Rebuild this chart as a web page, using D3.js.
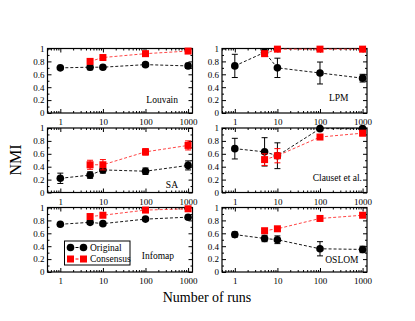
<!DOCTYPE html>
<html><head><meta charset="utf-8">
<script src="https://cdn.jsdelivr.net/npm/d3@7"></script>
<style>html,body{margin:0;padding:0;background:#fff;}svg{display:block;}</style>
</head><body>
<svg id="c" width="415" height="321"></svg>
<script>
// ---- data ----
const panels = ["Louvain", "LPM", "SA", "Clauset et al.", "Infomap", "OSLOM"];
const runsOriginal = [1, 5, 10, 100, 1000];
const runsConsensus = [5, 10, 100, 1000];
const originalNMI = [
  [0.70, 0.71, 0.71, 0.75, 0.73],
  [0.73, 0.94, 0.70, 0.62, 0.54],
  [0.22, 0.27, 0.35, 0.33, 0.42],
  [0.68, 0.63, 0.57, 0.99, 0.99],
  [0.74, 0.77, 0.75, 0.82, 0.85],
  [0.58, 0.52, 0.50, 0.36, 0.35]
];
const originalErr = [
  [0.02, 0.04, 0.03, 0.03, 0.04],
  [0.18, 0.05, 0.15, 0.17, 0.06],
  [0.08, 0.05, 0.05, 0.05, 0.07],
  [0.16, 0.22, 0.20, 0.01, 0.01],
  [0.02, 0.03, 0.03, 0.02, 0.03],
  [0.04, 0.05, 0.06, 0.11, 0.05]
];
const consensusNMI = [
  [0.80, 0.86, 0.92, 0.96],
  [0.92, 0.99, 0.99, 0.99],
  [0.43, 0.43, 0.63, 0.73],
  [0.51, 0.57, 0.86, 0.92],
  [0.86, 0.88, 0.96, 0.98],
  [0.64, 0.67, 0.83, 0.88]
];
const consensusErr = [
  [0.02, 0.02, 0.01, 0.01],
  [0.03, 0.01, 0.01, 0.01],
  [0.07, 0.08, 0.05, 0.07],
  [0.09, 0.11, 0.01, 0.04],
  [0.02, 0.02, 0.01, 0.01],
  [0.02, 0.02, 0.03, 0.02]
];
const xTickValues = [1, 10, 100, 1000];
const yTickValues = [0, 0.2, 0.4, 0.6, 0.8, 1];
const yTickLabels = ["0", "0.2", "0.4", "0.6", "0.8", "1"];
const seriesNames = ["Original", "Consensus"];

// ---- layout ----
const colX = [47.5, 222];
const rowY = [48.5, 128, 207.5];
const pw = 145, ph = 64.5;
const labelInset = [14.5, 18.5, 14.5, 5, 18.5, 8.5];
const labelRaise = [10, 12, 5, 12, 13, 9];
const serif = "'Liberation Serif','DejaVu Serif',serif";
const RED = "#ff0000";

const svg = d3.select("#c");

const minorX = [];
[0.1, 1, 10, 100, 1000].forEach(d => { for (let k = 1; k <= 9; k++) { const v = d * k; if (v >= 0.5 && v <= 1270 && xTickValues.indexOf(v) < 0) minorX.push(v); } });
const minorY = d3.range(0.1, 1, 0.2);

panels.forEach((name, i) => {
  const col = i % 2, row = Math.floor(i / 2);
  const g = svg.append("g").attr("transform", `translate(${colX[col]},${rowY[row]})`);
  const x = d3.scaleLog().domain([0.5, 1270]).range([0, pw]);
  const y = d3.scaleLinear().domain([0, 1]).range([ph, 0]);

  g.append("g").attr("transform", `translate(0,${ph})`)
    .call(d3.axisBottom(x).tickValues(xTickValues).tickFormat(d3.format("d")).tickSize(-4).tickSizeOuter(0).tickPadding(6));
  g.append("g").attr("transform", `translate(0,${ph})`)
    .call(d3.axisBottom(x).tickValues(minorX).tickFormat("").tickSize(-2).tickSizeOuter(0));
  g.append("g").call(d3.axisTop(x).tickValues(xTickValues).tickFormat("").tickSize(-4).tickSizeOuter(0));
  g.append("g").call(d3.axisTop(x).tickValues(minorX).tickFormat("").tickSize(-2).tickSizeOuter(0));
  g.append("g").call(d3.axisLeft(y).tickValues(yTickValues).tickFormat((d, j) => yTickLabels[j]).tickSize(-4).tickSizeOuter(0).tickPadding(3));
  g.append("g").call(d3.axisLeft(y).tickValues(minorY).tickFormat("").tickSize(-2).tickSizeOuter(0));
  g.append("g").attr("transform", `translate(${pw},0)`).call(d3.axisRight(y).tickValues(yTickValues).tickFormat("").tickSize(-4).tickSizeOuter(0));
  g.append("g").attr("transform", `translate(${pw},0)`).call(d3.axisRight(y).tickValues(minorY).tickFormat("").tickSize(-2).tickSizeOuter(0));
  g.selectAll(".domain").remove();
  g.selectAll(".tick line").attr("stroke", "#000").attr("stroke-width", 1);
  g.selectAll(".tick text").attr("font-family", serif).attr("font-size", 9).attr("fill", "#000");
  g.append("rect").attr("width", pw).attr("height", ph).attr("fill", "none").attr("stroke", "#000").attr("stroke-width", 1.2);

  const line = d3.line().x(d => x(d[0])).y(d => y(d[1]));
  const orig = runsOriginal.map((r, j) => [r, originalNMI[i][j], originalErr[i][j]]);
  const cons = runsConsensus.map((r, j) => [r, consensusNMI[i][j], consensusErr[i][j]]);

  function errBars(data, color) {
    const eb = g.append("g").attr("stroke", color).attr("stroke-width", 1);
    data.forEach(d => {
      const lo = Math.max(0, d[1] - d[2]), hi = Math.min(1, d[1] + d[2]);
      eb.append("line").attr("x1", x(d[0])).attr("x2", x(d[0])).attr("y1", y(lo)).attr("y2", y(hi));
      eb.append("line").attr("x1", x(d[0]) - 3).attr("x2", x(d[0]) + 3).attr("y1", y(lo)).attr("y2", y(lo));
      eb.append("line").attr("x1", x(d[0]) - 3).attr("x2", x(d[0]) + 3).attr("y1", y(hi)).attr("y2", y(hi));
    });
  }

  g.append("path").datum(orig).attr("d", line).attr("fill", "none").attr("stroke", "#000").attr("stroke-width", 0.9).attr("stroke-dasharray", "3,2");
  errBars(orig, "#000");
  g.selectAll("circle.o").data(orig).join("circle").attr("cx", d => x(d[0])).attr("cy", d => y(d[1])).attr("r", 3.8).attr("fill", "#000");

  g.append("path").datum(cons).attr("d", line).attr("fill", "none").attr("stroke", "#ff3030").attr("stroke-width", 0.9).attr("stroke-dasharray", "3,2");
  errBars(cons, RED);
  g.selectAll("rect.c").data(cons).join("rect").attr("x", d => x(d[0]) - 3.5).attr("y", d => y(d[1]) - 3.5).attr("width", 7).attr("height", 7).attr("fill", RED);

  g.append("text").attr("x", pw - labelInset[i]).attr("y", ph - labelRaise[i]).attr("text-anchor", "end")
    .attr("font-family", serif).attr("font-size", 9.5).text(name);

  if (i === 4) {
    const lg = g.append("g").attr("transform", "translate(17,33.5)");
    lg.append("rect").attr("width", 65.5).attr("height", 24).attr("fill", "#fff").attr("stroke", "#000").attr("stroke-width", 1);
    [[0, "#000"], [1, RED]].forEach(([k, c]) => {
      const yy = 6.5 + k * 11.5;
      lg.append("line").attr("x1", 6).attr("x2", 19).attr("y1", yy).attr("y2", yy).attr("stroke", c).attr("stroke-dasharray", "3,2");
      [6, 19].forEach(xx => {
        if (k === 0) lg.append("circle").attr("cx", xx).attr("cy", yy).attr("r", 3.8).attr("fill", c);
        else lg.append("rect").attr("x", xx - 3.5).attr("y", yy - 3.5).attr("width", 7).attr("height", 7).attr("fill", c);
      });
      lg.append("text").attr("x", 25.5).attr("y", yy + 3).attr("font-family", serif).attr("font-size", 9.5).text(seriesNames[k]);
    });
  }
});

svg.append("text").attr("transform", "translate(21,160) rotate(-90)").attr("text-anchor", "middle")
  .attr("font-family", serif).attr("font-size", 16).text("NMI");
svg.append("text").attr("x", 207).attr("y", 302).attr("text-anchor", "middle")
  .attr("font-family", serif).attr("font-size", 14).text("Number of runs");
</script>
</body></html>
